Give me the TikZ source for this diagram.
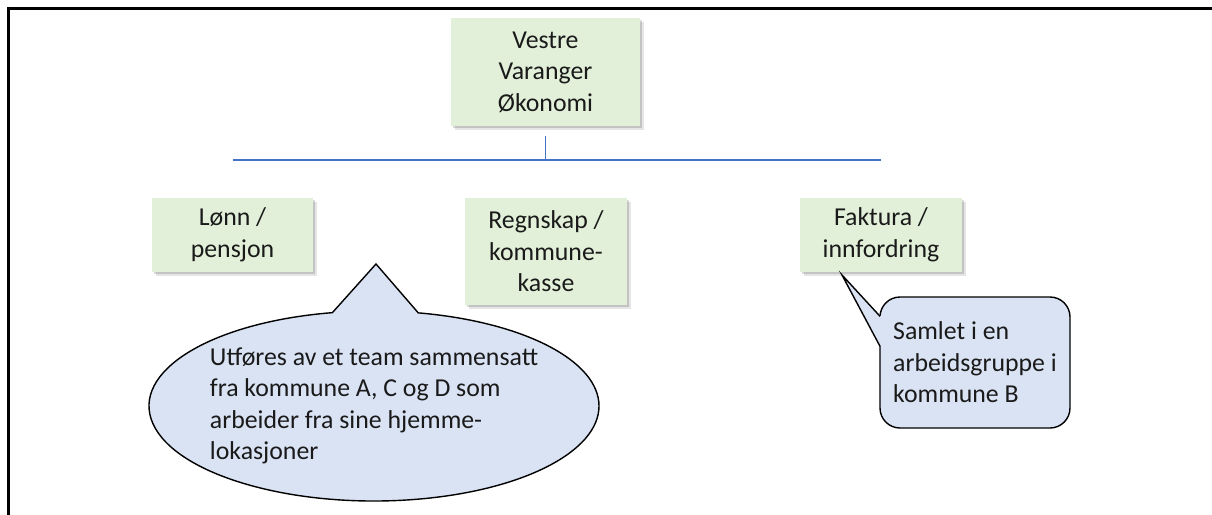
\documentclass[tikz,border=0pt]{standalone}
\usepackage{fontspec}
\setmainfont{Carlito}
\usetikzlibrary{
	shapes,
	shapes.callouts,
	shadows}
\definecolor{unitgreen}{HTML}{E2F0D9}
\definecolor{noteblue}{HTML}{DAE3F3}
\definecolor{barblue}{HTML}{4472C4}
\definecolor{textgray}{HTML}{1A1A1A}

\begin{document}
\begin{tikzpicture}[x=1pt,y=-1pt,every text node part/.style={align=center},
	every node/.style={font=\fontsize{25.8}{31.5}\selectfont,text=textgray},
	unit/.style={fill=unitgreen,inner sep=0pt,minimum width=162pt,minimum height=74pt,
		general shadow={shadow xshift=4pt,shadow yshift=-4pt,fill=black,opacity=0.10},
		general shadow={shadow xshift=2pt,shadow yshift=-2pt,fill=black,opacity=0.15}},
	note/.style={draw=black,fill=noteblue,line width=1.4pt,inner sep=0pt,
		every text node part/.style={align=left}},
	bar/.style={draw=barblue,line width=1.6pt}]

	\useasboundingbox (0,0) rectangle (1212,514);
	\draw[line width=2.5pt] (1220,8.5) -- (8.5,8.5) -- (8.5,520);

		% Units
		\node[unit,minimum width=189pt,minimum height=108pt] (VVO) at (545.5,72) {Vestre\\Varanger\\Økonomi};
		\node[unit,minimum width=161pt] (lonn) at (232.5,235) {Lønn /\\pensjon};
		\node[unit,minimum height=107pt] (regnskap) at (546,251.5) {Regnskap /\\kommune-\\kasse};
		\node[unit] (faktura) at (881,235) {Faktura /\\innfordring};

		% Org lines
		\coordinate (bar) at (546,160);
		\draw[bar] ([yshift=-10pt]VVO.south) to (VVO.south |- bar);
		\draw[bar] (lonn.center |- bar) to (faktura.center |- bar);

		% Notes
		\coordinate (lonn-tip) at (376,264);
		\node[note,ellipse callout,callout absolute pointer=(lonn-tip),callout pointer arc=22,
			minimum width=450pt,minimum height=190pt,inner xsep=-6pt] (lonn-note) at (374,406)
			{Utføres av et team sammensatt\\fra kommune A, C og D som\\arbeider fra sine hjemme-\\lokasjoner};

		\node[note,rounded corners=20pt,minimum width=190pt,minimum height=131pt] (faktura-note) at (975,362.5)
			{Samlet i en\\arbeidsgruppe i\\kommune B};
		\coordinate (faktura-tip) at (842,275);
		\fill[noteblue] ([xshift=1.5pt,yshift=-20pt]faktura-note.north west) -- (faktura-tip)
			-- ([xshift=1.5pt,yshift=-50pt]faktura-note.north west) -- cycle;
		\draw[line width=1.4pt] ([xshift=0.7pt,yshift=-20pt]faktura-note.north west) -- (faktura-tip)
			-- ([xshift=0.7pt,yshift=-50pt]faktura-note.north west);

	\end{tikzpicture}
\end{document}
